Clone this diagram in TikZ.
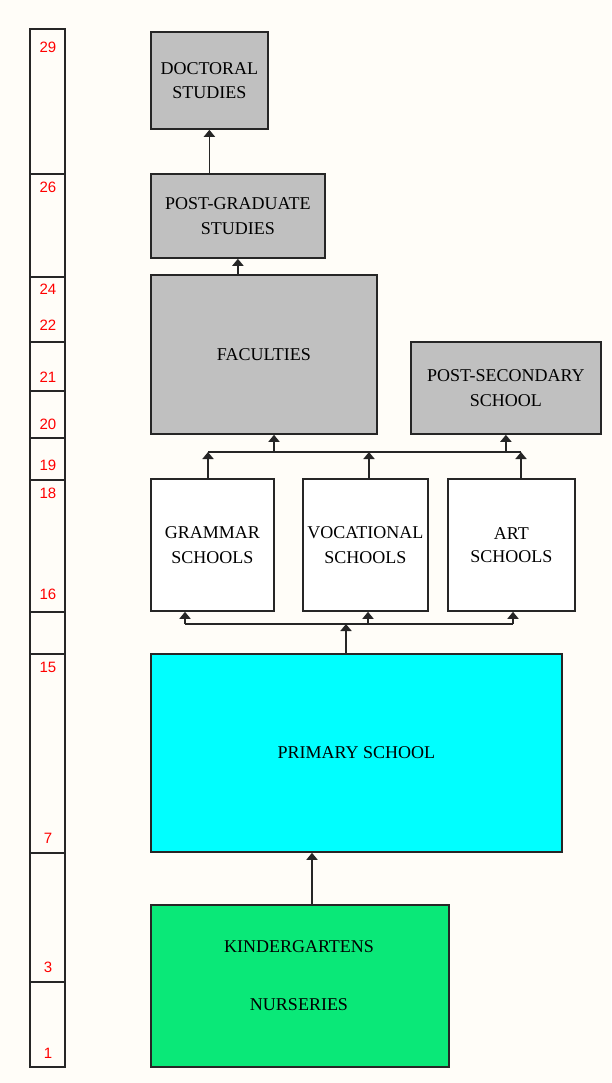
\documentclass[tikz,border=0pt]{standalone}
\usepackage{fontspec}
\setmainfont{Liberation Serif}
\newfontfamily\agefont{Liberation Sans}
\usetikzlibrary{arrows.meta}
\definecolor{bg}{RGB}{255,253,248}
\definecolor{grayfill}{RGB}{192,192,192}
\definecolor{cyanfill}{RGB}{0,255,255}
\definecolor{greenfill}{RGB}{10,232,120}
\definecolor{agered}{RGB}{255,0,0}
\tikzset{
  box/.style={draw=black!85, line width=1.8pt, anchor=north west, inner sep=0pt,
    align=center, font=\fontsize{18}{24.5}\selectfont},
  graybox/.style={box, fill=grayfill},
  whitebox/.style={box, fill=white},
  agecell/.style={draw=black!85, line width=1.8pt, fill=bg},
  agelabel/.style={text=agered, font=\agefont\fontsize{15}{15}\selectfont, inner sep=0pt},
  conn/.style={line width=1.8pt, draw=black!85},
  arr/.style={conn, -{Triangle[width=11pt,length=7pt]}},
  plaintext/.style={align=center, font=\fontsize{18}{24.5}\selectfont, anchor=base},
}
\begin{document}
\begin{tikzpicture}[x=1pt,y=-1pt]
\fill[bg] (0,0) rectangle (611,1083);
\useasboundingbox (0,0) rectangle (611,1083);

% age column
\foreach \a/\b in {29/174,174/277,277/342,342/391,391/438,438/480,480/612,612/654,654/853,853/982,982/1067}
  \draw[agecell] (30,\a) rectangle (65,\b);
\foreach \n/\y in {29/47,26/187,24/289,22/325,21/377,20/424,19/465,18/493,16/594,15/667,7/838,3/967,1/1053}
  \node[agelabel] (age\n) at (48,\y) {\n};

% boxes
\node[graybox, minimum width=117pt, minimum height=97pt] (doc) at (150,31) {DOCTORAL\\STUDIES};
\node[graybox, minimum width=174pt, minimum height=84pt] (pg) at (150,173) {POST-GRADUATE\\STUDIES};
\node[graybox, minimum width=226pt, minimum height=159pt] (fac) at (150,274) {FACULTIES};
\node[graybox, minimum width=190pt, minimum height=92pt] (ps) at (410,341) {POST-SECONDARY\\SCHOOL};
\node[whitebox, minimum width=123pt, minimum height=132pt] (gram) at (150,478) {GRAMMAR\\SCHOOLS};
\node[whitebox, minimum width=125pt, minimum height=132pt] (voc) at (302,478) {VOCATIONAL\\SCHOOLS};
\node[whitebox, minimum width=127pt, minimum height=132pt] (art) at (447,478) {ART\\[-2pt]SCHOOLS};
\node[box, fill=cyanfill, minimum width=411pt, minimum height=198pt] (prim) at (150,653) {PRIMARY SCHOOL};
\node[box, fill=greenfill, minimum width=298pt, minimum height=162pt] (kin) at (150,904) {};
\node[plaintext] (kintxt) at (299,952) {KINDERGARTENS};
\node[plaintext] (nurtxt) at (299,1010) {NURSERIES};

% connectors top part
\draw[arr] (pg.north -| doc.south) -- (doc.south);
\draw[arr] (fac.north -| pg.south) -- (pg.south);

% upper bus
\coordinate (tbL) at (208,452);
\coordinate (tbR) at (521,452);
\coordinate (tbF) at (274,452);
\coordinate (tbV) at (369,452);
\draw[conn] (tbL) -- (tbR);
\draw[arr] (gram.north -| tbL) -- (tbL);
\draw[arr] (voc.north -| tbV) -- (tbV);
\draw[arr] (art.north -| tbR) -- (tbR);
\draw[arr] (tbF) -- (tbF |- fac.south);
\draw[arr] (ps.south |- tbL) -- (ps.south);

% lower bus
\coordinate (bbL) at (185,624);
\coordinate (bbR) at (513,624);
\coordinate (bbV) at (368,624);
\coordinate (bbP) at (346,624);
\draw[conn] (bbL) -- (bbR);
\draw[arr] (bbL) -- (bbL |- gram.south);
\draw[arr] (bbV) -- (bbV |- voc.south);
\draw[arr] (bbR) -- (bbR |- art.south);
\draw[arr] (prim.north -| bbP) -- (bbP);

% kindergarten to primary
\coordinate (kp) at (312,904);
\draw[arr] (kp) -- (kp |- prim.south);
\end{tikzpicture}
\end{document}
